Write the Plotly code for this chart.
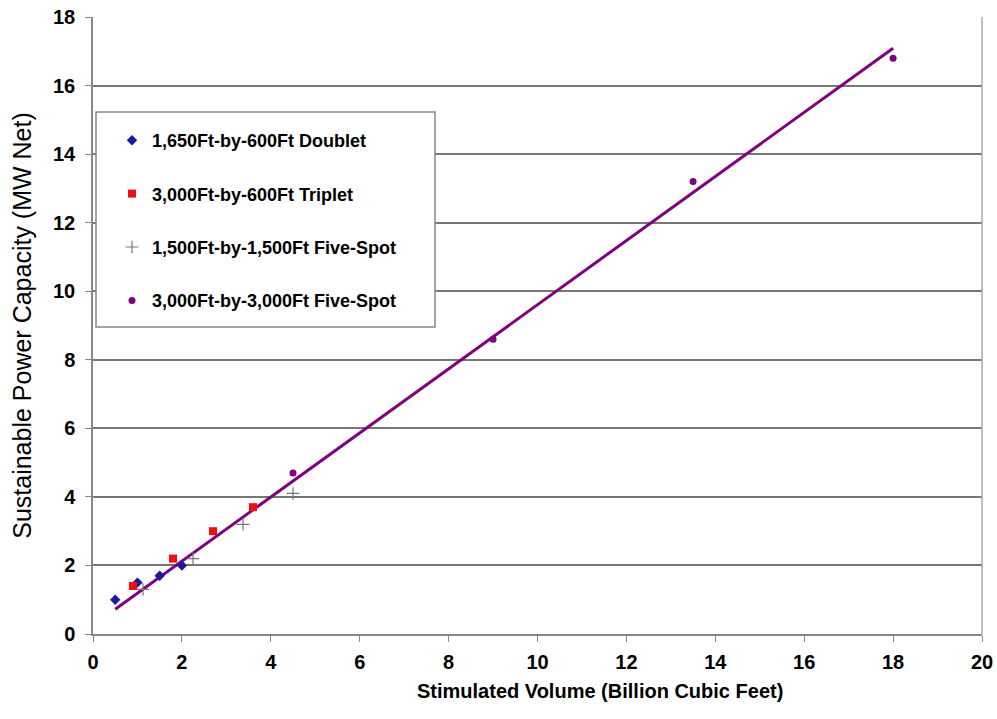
import plotly.graph_objects as go

# Data
doublet_x = [0.5, 1.0, 1.5, 2.0]
doublet_y = [1.0, 1.5, 1.7, 2.0]
triplet_x = [0.9, 1.8, 2.7, 3.6]
triplet_y = [1.4, 2.2, 3.0, 3.7]
fivespot1500_x = [1.125, 2.25, 3.375, 4.5]
fivespot1500_y = [1.3, 2.2, 3.2, 4.1]
fivespot3000_x = [4.5, 9.0, 13.5, 18.0]
fivespot3000_y = [4.7, 8.6, 13.2, 16.8]
trend_x = [0.5, 18.0]
trend_y = [0.72, 17.09]

names = ["1,650Ft-by-600Ft Doublet", "3,000Ft-by-600Ft Triplet",
         "1,500Ft-by-1,500Ft Five-Spot", "3,000Ft-by-3,000Ft Five-Spot"]
x_title = "Stimulated Volume (Billion Cubic Feet)"
y_title = "Sustainable Power Capacity (MW Net)"

FONT = "Liberation Sans"

fig = go.Figure()
fig.add_trace(go.Scatter(x=trend_x, y=trend_y, mode="lines",
                         line=dict(color="#800080", width=3), showlegend=False,
                         hoverinfo="skip"))
fig.add_trace(go.Scatter(x=doublet_x, y=doublet_y, mode="markers", name=names[0],
                         legendgroup="a",
                         marker=dict(symbol="diamond", size=8, color="#1a1aa0")))
fig.add_trace(go.Scatter(x=triplet_x, y=triplet_y, mode="markers", name=names[1],
                         legendgroup="b",
                         marker=dict(symbol="square", size=8, color="#ee1111")))
fig.add_trace(go.Scatter(x=fivespot1500_x, y=fivespot1500_y, mode="markers", name=names[2],
                         legendgroup="c",
                         marker=dict(symbol="cross-thin", size=9, color="#777777",
                                     line=dict(width=1.2, color="#777777"))))
fig.add_trace(go.Scatter(x=fivespot3000_x, y=fivespot3000_y, mode="markers", name=names[3],
                         legendgroup="d",
                         marker=dict(symbol="circle", size=7, color="#800080")))

PW = 982 - 93
PH = 634 - 17
fig.update_layout(
    width=997, height=719,
    margin=dict(l=93, r=15, t=17, b=85),
    paper_bgcolor="white", plot_bgcolor="white",
    font=dict(family=FONT, color="black"),
    legend=dict(x=(112 - 93) / PW, y=(634 - 122) / PH, xanchor="left", yanchor="top",
                bgcolor="rgba(0,0,0,0)", borderwidth=0,
                font=dict(family=FONT, size=18, color="black", weight="bold"),
                tracegroupgap=27, itemwidth=30),
    shapes=[dict(type="rect", xref="paper", yref="paper",
                 x0=(96 - 93) / PW, x1=(435 - 93) / PW,
                 y0=(634 - 327) / PH, y1=(634 - 112) / PH,
                 line=dict(color="#888888", width=1.5), fillcolor="white", layer="above"),
            dict(type="line", xref="paper", yref="paper", x0=1, x1=1, y0=0, y1=1,
                 line=dict(color="#aaaaaa", width=1.5))],
    annotations=[dict(text=x_title, xref="paper", yref="paper",
                      x=(600 - 93) / PW, y=-(691 - 634) / PH, xanchor="center", yanchor="middle",
                      showarrow=False, font=dict(size=20, family=FONT, weight="bold"))],
    xaxis=dict(range=[0, 20], dtick=2, tick0=0, showgrid=False, zeroline=False,
               showline=True, linecolor="#888888", linewidth=1.5, automargin=False,
               ticks="outside", ticklen=6, tickcolor="#888888", ticklabelstandoff=3,
               tickfont=dict(size=20, family=FONT, weight="bold")),
    yaxis=dict(range=[0, 18], dtick=2, tick0=0, showgrid=True, gridcolor="#777777",
               gridwidth=1.5, zeroline=False, automargin=False,
               showline=True, linecolor="#888888", linewidth=1.5,
               ticks="outside", ticklen=6, tickcolor="#888888", ticklabelstandoff=6,
               tickfont=dict(size=20, family=FONT, weight="bold"),
               title=dict(text=y_title, font=dict(size=25, family=FONT), standoff=14)),
)

fig.write_html("out.html")
